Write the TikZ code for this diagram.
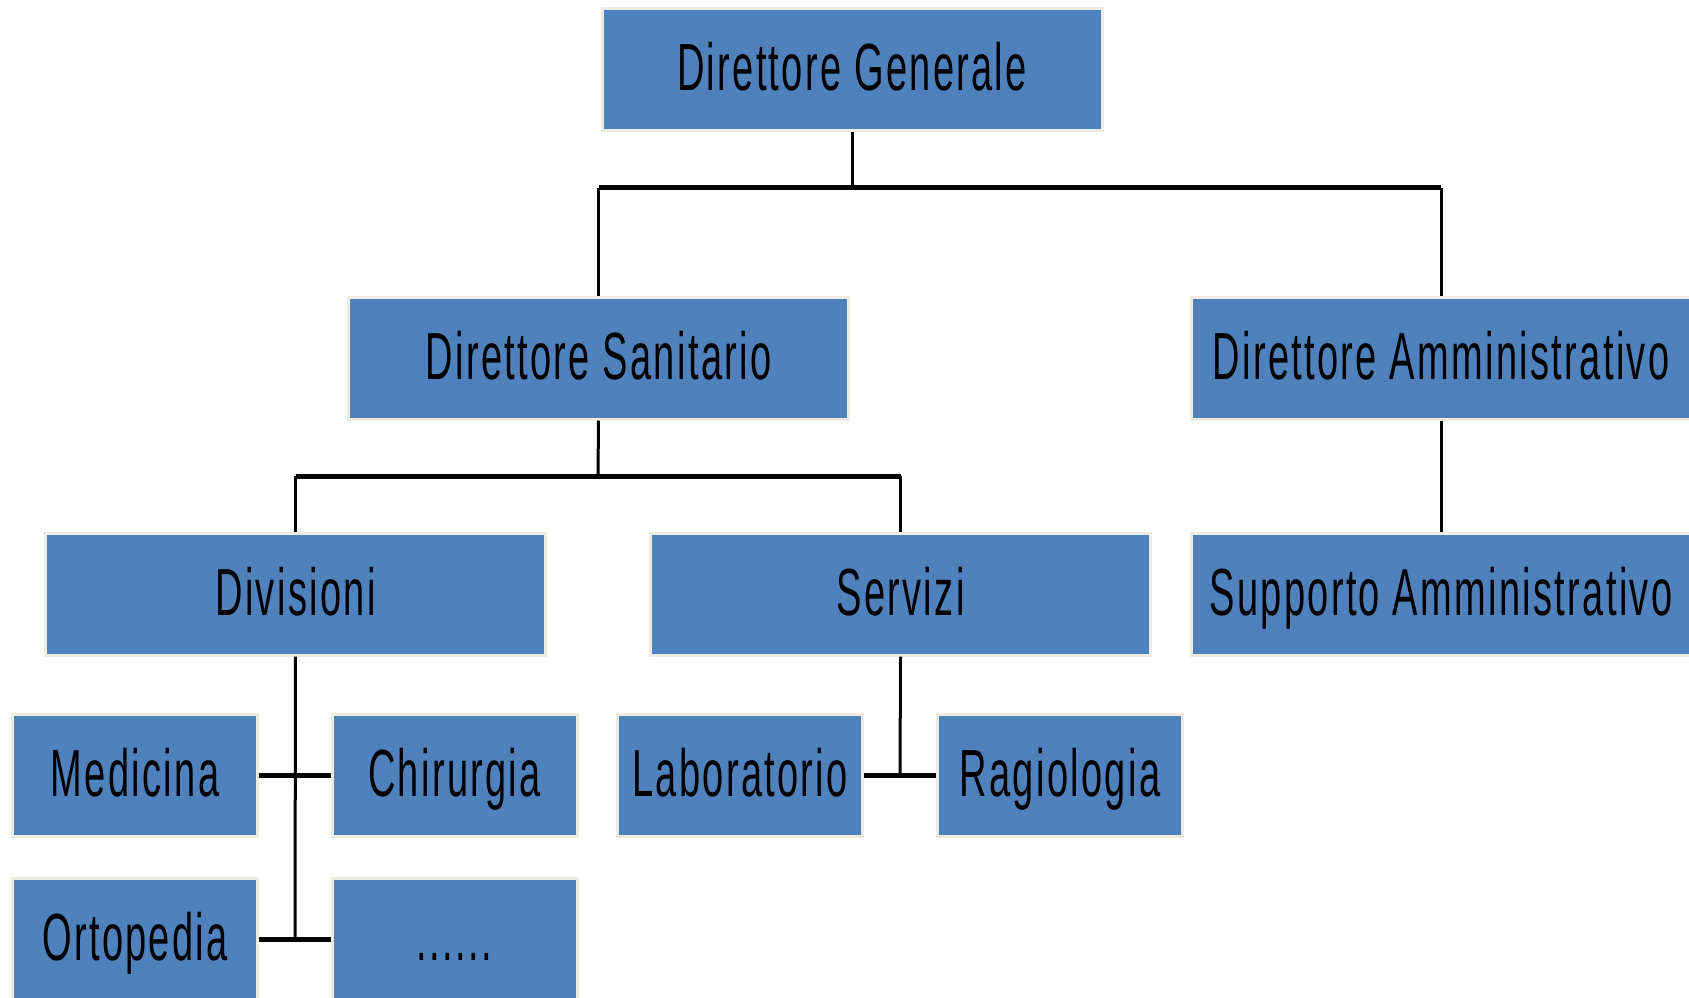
\documentclass[tikz,border=0pt]{standalone}
\usepackage{fontspec}
\newfontfamily\boxfont{Liberation Sans}[FakeStretch=0.57,LetterSpace=3.5]
\definecolor{boxblue}{HTML}{4F81BD}
\definecolor{boxedge}{HTML}{EEECE1}
\begin{document}
\begin{tikzpicture}[x=0.75pt,y=-0.75pt,
  orgbox/.style={draw=boxedge,fill=boxblue,line width=2.25pt,
    minimum height=91.5pt,inner sep=0pt,text height=38pt,text depth=6pt,
    font=\boxfont\fontsize{50}{60}\selectfont,text=black},
  bigbox/.style={orgbox,minimum width=375pt},
  smallbox/.style={orgbox,minimum width=183.75pt},
  thinline/.style={line width=2.25pt},
  thickline/.style={line width=3.75pt}]
\useasboundingbox (0,0) rectangle (1689,997);
\fill[white] (0,0) rectangle (1689,997);
\clip (0,0) rectangle (1689,997);
% boxes
\node[bigbox] (dg) at (852,69.5) {Direttore Generale};
\node[bigbox] (ds) at (598.5,358) {Direttore Sanitario};
\node[bigbox] (da) at (1441,358) {Direttore Amministrativo};
\node[bigbox] (div) at (295.5,594) {Divisioni};
\node[bigbox] (ser) at (900.5,594) {Servizi};
\node[bigbox] (sa) at (1441,594) {Supporto Amministrativo};
\node[smallbox] (med) at (135,775.5) {Medicina};
\node[smallbox] (chi) at (454.5,775.5) {Chirurgia};
\node[smallbox] (lab) at (740,775.5) {Laboratorio};
\node[smallbox] (rag) at (1060,775.5) {Ragiologia};
\node[smallbox] (ort) at (135,939.5) {Ortopedia};
\node[smallbox] (dots) at (454.5,939.5) {......};
% junctions
\coordinate (j1) at (852,187.5);
\coordinate (j2) at (598,476);
\coordinate (j3) at (295,775.5);
\coordinate (j4) at (295,939.5);
\coordinate (j5) at (900,775.5);
% connectors
\draw[thinline] (dg.south) -- (j1);
\draw[thickline] (ds.north |- j1) -- (da.north |- j1);
\draw[thinline] (ds.north |- j1) -- (ds.north);
\draw[thinline] (da.north |- j1) -- (da.north);
\draw[thinline] (ds.south) -- (j2);
\draw[thickline] (div.north |- j2) -- (ser.north |- j2);
\draw[thinline] (div.north |- j2) -- (div.north);
\draw[thinline] (ser.north |- j2) -- (ser.north);
\draw[thinline] (da.south) -- (sa.north);
\draw[thinline] (div.south) -- (j4);
\draw[thickline] (med.east) -- (chi.west);
\draw[thickline] (ort.east) -- (dots.west);
\draw[thinline] (ser.south) -- (j5);
\draw[thickline] (lab.east) -- (rag.west);
\end{tikzpicture}
\end{document}
